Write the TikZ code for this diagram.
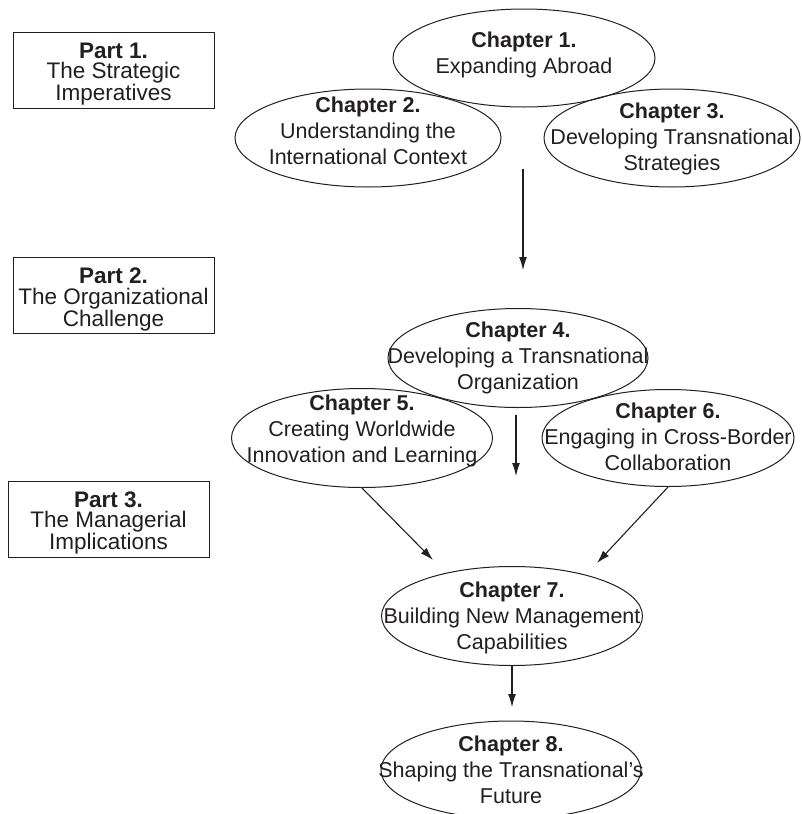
\documentclass[tikz,border=0pt]{standalone}
\usepackage{fontspec}
\setmainfont{Liberation Sans}
\usetikzlibrary{shapes.geometric,arrows.meta}
\definecolor{ink}{RGB}{35,31,32}
\begin{document}
\begin{tikzpicture}[x=1pt,y=-1pt]
\tikzset{
 chapshape/.style={draw=ink, ellipse, inner sep=0pt, line width=1pt},
 chaptext/.style={align=center, text=ink, inner sep=0pt, font=\fontsize{21.5}{26}\selectfont},
 partbox/.style={draw=ink, rectangle, minimum width=201pt, minimum height=76pt, inner sep=0pt, line width=1pt},
 parttext/.style={align=center, text=ink, inner sep=0pt, font=\fontsize{22.5}{20.5}\selectfont},
 conn/.style={draw=ink, line width=1.1pt, -{Latex[length=13pt,width=8pt]}}
}
\useasboundingbox (0,0) rectangle (801,814);
\fill[white] (0,0) rectangle (801,814);

% Part boxes
\node[partbox] (p1) at (113.5,70) {};
\node[parttext] (q1) at (113.5,74) {\textbf{Part 1.}\\The Strategic\\Imperatives};
\node[partbox] (p2) at (113.5,295.5) {};
\node[parttext] (q2) at (113.5,299.5) {\textbf{Part 2.}\\The Organizational\\Challenge};
\node[partbox] (p3) at (108.5,519) {};
\node[parttext] (q3) at (108.5,523) {\textbf{Part 3.}\\The Managerial\\Implications};

% Chapter ellipses
\node[chapshape, minimum width=262pt, minimum height=98pt] (c1) at (524,58) {};
\node[chaptext] (t1) at (524,55) {\textbf{Chapter 1.}\\Expanding Abroad};
\node[chapshape, minimum width=266pt, minimum height=98pt] (c2) at (368,138) {};
\node[chaptext] (t2) at (368,131) {\textbf{Chapter 2.}\\Understanding the\\International Context};
\node[chapshape, minimum width=256pt, minimum height=98pt] (c3) at (672,138) {};
\node[chaptext] (t3) at (672,139) {\textbf{Chapter 3.}\\Developing Transnational\\Strategies};

\node[chapshape, minimum width=260pt, minimum height=99pt] (c4) at (518,358) {};
\node[chaptext] (t4) at (518,358) {\textbf{Chapter 4.}\\Developing a Transnational\\Organization};
\node[chapshape, minimum width=261pt, minimum height=99pt] (c5) at (362,438) {};
\node[chaptext] (t5) at (362,431) {\textbf{Chapter 5.}\\Creating Worldwide\\Innovation and Learning};
\node[chapshape, minimum width=252pt, minimum height=97pt] (c6) at (668,438) {};
\node[chaptext] (t6) at (668,437) {\textbf{Chapter 6.}\\Engaging in Cross-Border\\Collaboration};

\node[chapshape, minimum width=261pt, minimum height=99pt] (c7) at (512,616) {};
\node[chaptext] (t7) at (512,618) {\textbf{Chapter 7.}\\Building New Management\\Capabilities};
\node[chapshape, minimum width=260pt, minimum height=98pt] (c8) at (511,770) {};
\node[chaptext] (t8) at (511,770) {\textbf{Chapter 8.}\\Shaping the Transnational’s\\Future};

% Connectors
\coordinate (a1s) at (523,169);
\coordinate (a1e) at (523,270);
\draw[conn] (a1s) -- (a1e);
\coordinate (a2s) at (516,415);
\coordinate (a2e) at (516,476);
\draw[conn] (a2s) -- (a2e);
\coordinate (d5e) at (433,560);
\draw[conn] (c5.south) -- (d5e);
\coordinate (d6e) at (597,563);
\draw[conn] (c6.south) -- (d6e);
\coordinate (a3e) at (512,707);
\draw[conn] (c7.south) -- (a3e);
\end{tikzpicture}
\end{document}
